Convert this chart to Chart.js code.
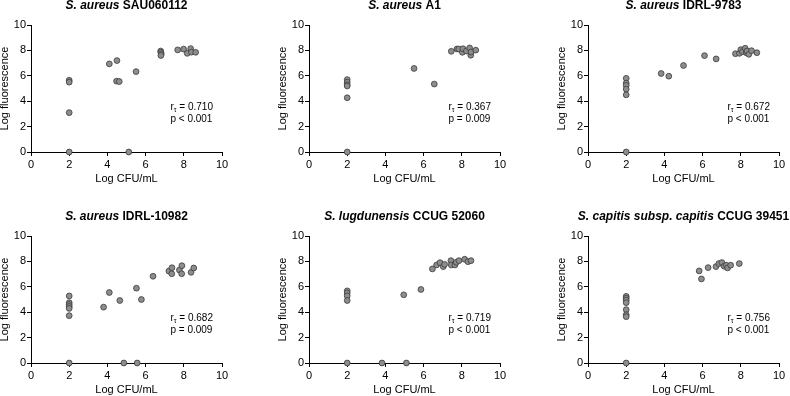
<!DOCTYPE html>
<html>
<head>
<meta charset="utf-8">
<script src="https://cdn.jsdelivr.net/npm/chart.js@4/dist/chart.umd.min.js"></script>
<style>
  html, body { margin: 0; padding: 0; background: #fff; }
  body { width: 790px; height: 396px; position: relative; overflow: hidden; }
  canvas { position: absolute; }
</style>
</head>
<body>
<canvas id="c1"></canvas>
<canvas id="c2"></canvas>
<canvas id="c3"></canvas>
<canvas id="c4"></canvas>
<canvas id="c5"></canvas>
<canvas id="c6"></canvas>
<script>
// panel titles (italic species part + bold strain part) and stats
const species = ['S. aureus', 'S. aureus', 'S. aureus', 'S. aureus', 'S. lugdunensis', 'S. capitis subsp. capitis'];
const strains = ['SAU060112', 'A1', 'IDRL-9783', 'IDRL-10982', 'CCUG 52060', 'CCUG 39451'];
const tauValues = ['0.710', '0.367', '0.672', '0.682', '0.719', '0.756'];
const pValues = ['< 0.001', '= 0.009', '< 0.001', '= 0.009', '< 0.001', '< 0.001'];
const axisTicks = [0, 2, 4, 6, 8, 10];

// Log CFU/mL (x) and Log fluorescence (y)
const sau060112X = [2, 2, 2, 2, 4.1, 4.5, 4.48, 4.62, 5.5, 5.12, 6.79, 6.8, 6.82, 6.8, 7.68, 7.99, 8.18, 8.36, 8.4, 8.62];
const sau060112Y = [5.65, 5.5, 3.1, 0, 6.94, 7.2, 5.58, 5.55, 6.33, 0, 7.95, 7.85, 7.72, 7.6, 8.04, 8.1, 7.77, 8.14, 7.86, 7.85];

const a1X = [2, 2, 2, 2, 2, 2, 5.5, 6.56, 7.45, 7.75, 7.84, 8.03, 8.06, 8.24, 8.41, 8.47, 8.48, 8.73];
const a1Y = [5.7, 5.5, 5.3, 5.2, 4.27, 0, 6.58, 5.35, 7.93, 8.11, 8.11, 7.85, 8.13, 7.95, 8.19, 7.62, 7.87, 8.02];

const idrl9783X = [2, 2, 2, 2, 2, 2, 3.83, 4.23, 5.0, 6.1, 6.71, 7.72, 7.93, 8.0, 8.09, 8.23, 8.28, 8.32, 8.42, 8.56, 8.84];
const idrl9783Y = [5.8, 5.42, 5.24, 4.95, 4.5, 0, 6.18, 5.97, 6.81, 7.59, 7.33, 7.74, 7.77, 8.06, 7.9, 8.17, 7.82, 7.95, 7.69, 7.98, 7.82];

const idrl10982X = [2, 2, 2, 2, 2, 2, 2, 3.8, 4.1, 4.65, 5.52, 5.78, 6.39, 4.86, 5.56, 7.22, 7.38, 7.37, 7.77, 7.9, 7.89, 8.38, 8.52];
const idrl10982Y = [5.28, 4.75, 4.6, 4.45, 4.3, 3.73, 0, 4.4, 5.55, 4.92, 5.89, 5.0, 6.83, 0, 0, 7.24, 7.5, 7.03, 7.32, 7.66, 7.03, 7.14, 7.48];

const ccug52060X = [2, 2, 2, 2, 2, 3.82, 4.96, 5.1, 5.86, 6.46, 6.68, 6.86, 7.03, 7.1, 7.43, 7.45, 7.64, 7.71, 7.85, 8.15, 8.32, 8.48];
const ccug52060Y = [5.68, 5.52, 5.29, 4.92, 0, 0, 5.37, 0, 5.79, 7.41, 7.72, 7.9, 7.59, 7.77, 8.06, 7.72, 7.72, 7.93, 8.06, 8.17, 7.98, 8.06];

const ccug39451X = [2, 2, 2, 2, 2, 2, 2, 2, 5.82, 5.94, 6.29, 6.7, 6.85, 7.01, 7.13, 7.24, 7.31, 7.47, 7.92];
const ccug39451Y = [5.25, 5.1, 4.95, 4.75, 4.2, 3.8, 3.65, 0, 7.25, 6.62, 7.51, 7.59, 7.83, 7.91, 7.62, 7.7, 7.49, 7.7, 7.83];

const panelX = [sau060112X, a1X, idrl9783X, idrl10982X, ccug52060X, ccug39451X];
const panelY = [sau060112Y, a1Y, idrl9783Y, idrl10982Y, ccug52060Y, ccug39451Y];

const FONT = '"Liberation Sans", Arial, sans-serif';
Chart.defaults.font.family = FONT;
Chart.defaults.color = '#000';

// plot area origins in the page
const plotLefts = [31, 309, 588];
const plotTops = [25, 236];
const plotW = 191;
const axisW = 45;
const padRight = 12;
const canvasH = 196;

const panelText = {
    id: 'panelText',
    afterDraw(chart, args, opts) {
        const {ctx, chartArea, scales} = chart;
        ctx.save();
        ctx.fillStyle = '#000';
        ctx.textBaseline = 'middle';
        ctx.textAlign = 'left';
        // title
        const italic = 'italic bold 12px ' + FONT;
        const bold = 'bold 12px ' + FONT;
        ctx.font = italic;
        const w1 = ctx.measureText(opts.species + ' ').width;
        ctx.font = bold;
        const w2 = ctx.measureText(opts.strain).width;
        const tx = (chartArea.left + chartArea.right) / 2 - (w1 + w2) / 2;
        const ty = chartArea.top - 19;
        ctx.font = italic;
        ctx.fillText(opts.species + ' ', tx, ty);
        ctx.font = bold;
        ctx.fillText(opts.strain, tx + w1, ty);
        // stats
        const sx = scales.x.getPixelForValue(7.3);
        const sy1 = scales.y.getPixelForValue(3.5);
        const sy2 = scales.y.getPixelForValue(2.55);
        ctx.font = '10px ' + FONT;
        ctx.fillText('r', sx, sy1);
        const rw = ctx.measureText('r').width;
        ctx.font = '7px ' + FONT;
        ctx.fillText('τ', sx + rw, sy1 + 3);
        const tw = ctx.measureText('τ').width;
        ctx.font = '10px ' + FONT;
        ctx.fillText(' = ' + opts.tau, sx + rw + tw, sy1);
        ctx.fillText('p ' + opts.p, sx, sy2);
        ctx.restore();
    }
};

function makePanel(i) {
    const col = i % 3;
    const row = Math.floor(i / 3);
    const canvas = document.getElementById('c' + (i + 1));
    const w = axisW + plotW + padRight;
    canvas.width = w;
    canvas.height = canvasH;
    canvas.style.left = (plotLefts[col] - axisW) + 'px';
    canvas.style.top = (plotTops[row] - 25) + 'px';

    const points = panelX[i].map((x, k) => ({x: x, y: panelY[i][k]}));

    new Chart(canvas, {
        type: 'scatter',
        data: {
            datasets: [{
                data: points,
                backgroundColor: '#8d8d8d',
                borderColor: '#3a3a3a',
                borderWidth: 0.8,
                pointRadius: 2.9,
                clip: false
            }]
        },
        options: {
            responsive: false,
            animation: false,
            devicePixelRatio: 1,
            layout: {padding: {top: 25, right: padRight, left: 0, bottom: 0}},
            plugins: {
                legend: {display: false},
                tooltip: {enabled: false},
                panelText: {species: species[i], strain: strains[i], tau: tauValues[i], p: pValues[i]}
            },
            scales: {
                x: {
                    type: 'linear', min: 0, max: 10,
                    afterBuildTicks: s => { s.ticks = axisTicks.map(v => ({value: v})); },
                    ticks: {font: {size: 11}, color: '#000', padding: 2, maxRotation: 0},
                    grid: {drawOnChartArea: false, drawTicks: true, tickLength: 4, color: '#000', lineWidth: 1},
                    border: {color: '#000', width: 1},
                    title: {display: true, text: 'Log CFU/mL', font: {size: 11}, color: '#000', padding: {top: 0, bottom: 10.4}},
                    afterFit: s => { s.height = 44; }
                },
                y: {
                    type: 'linear', min: 0, max: 10,
                    afterBuildTicks: s => { s.ticks = axisTicks.map(v => ({value: v})); },
                    ticks: {font: {size: 11}, color: '#000', padding: 1},
                    grid: {drawOnChartArea: false, drawTicks: true, tickLength: 4, color: '#000', lineWidth: 1},
                    border: {color: '#000', width: 1},
                    title: {display: true, text: 'Log fluorescence', font: {size: 11}, color: '#000', padding: {top: 12.4, bottom: 0}},
                    afterFit: s => { s.width = axisW; }
                }
            }
        },
        plugins: [panelText]
    });
}

for (let i = 0; i < 6; i++) {
    makePanel(i);
}
</script>
</body>
</html>
